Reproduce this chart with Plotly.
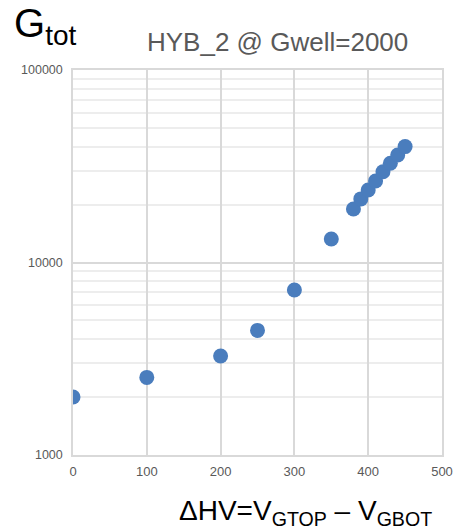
import plotly.graph_objects as go

dhv = [0, 100, 200, 250, 300, 350, 380, 390, 400, 410, 420, 430, 440, 450]
gtot = [2000, 2530, 3270, 4440, 7200, 13250, 18950, 21400, 23800, 26500, 29600, 32800, 36200, 40000]

x_ticks = [0, 100, 200, 300, 400, 500]
y_ticks = [1000, 10000, 100000]
y_tick_labels = ["1000", "10000", "100000"]

FONT = "Liberation Sans, Arial, Helvetica, sans-serif"
GRID = "#d9d9d9"
MINOR = "#ededed"
TXT = "#595959"

fig = go.Figure()
fig.add_trace(go.Scatter(
    x=dhv, y=gtot, mode="markers",
    marker=dict(size=15, color="#4a7dbd", line=dict(width=0)),
    showlegend=False, hoverinfo="x+y",
))

fig.update_layout(
    width=457, height=530,
    margin=dict(l=73, r=15, t=70, b=75, autoexpand=False),
    paper_bgcolor="white", plot_bgcolor="white",
    font=dict(family=FONT, color=TXT),
    xaxis=dict(
        range=[0, 500], tickvals=x_ticks, ticktext=[str(v) for v in x_ticks],
        showgrid=True, gridcolor=GRID, gridwidth=1.5,
        showline=True, linecolor=GRID, linewidth=1.5, mirror=True,
        zeroline=False, ticks="", tickfont=dict(size=13, color=TXT),
        ticklabelstandoff=4, automargin=False,
    ),
    yaxis=dict(
        type="log", range=[3, 5], tickvals=y_ticks, ticktext=y_tick_labels,
        showgrid=True, gridcolor=GRID, gridwidth=1.5,
        showline=True, linecolor=GRID, linewidth=1.5, mirror=True,
        zeroline=False, ticks="", tickfont=dict(size=12.5, color=TXT),
        ticklabelstandoff=6, automargin=False,
        minor=dict(dtick="D1", showgrid=True, gridcolor=MINOR, gridwidth=1.5, ticks=""),
    ),
    annotations=[
        dict(text="G<sub>tot</sub>", xref="paper", yref="paper",
             x=(12 - 73) / 369, y=1 + (70 + 1) / 385, xanchor="left", yanchor="top",
             showarrow=False, font=dict(size=40, color="black", family=FONT)),
        dict(text="HYB_2 @ Gwell=2000", xref="paper", yref="paper",
             x=(277 - 73) / 369, y=1 + (70 - 42) / 385, xanchor="center", yanchor="middle",
             showarrow=False, font=dict(size=26, color=TXT, family=FONT)),
        dict(text="ΔHV=V<sub>GTOP</sub> – V<sub>GBOT</sub>", xref="paper", yref="paper",
             x=(434 - 73) / 369, y=-(530 - 455) / 385, xanchor="right", yanchor="bottom",
             yshift=-2,
             showarrow=False, font=dict(size=28, color="black", family=FONT)),
    ],
)

fig.write_html("out.html", config={"displayModeBar": False},
               post_script="document.body.style.margin='0';document.body.style.overflow='hidden';")
